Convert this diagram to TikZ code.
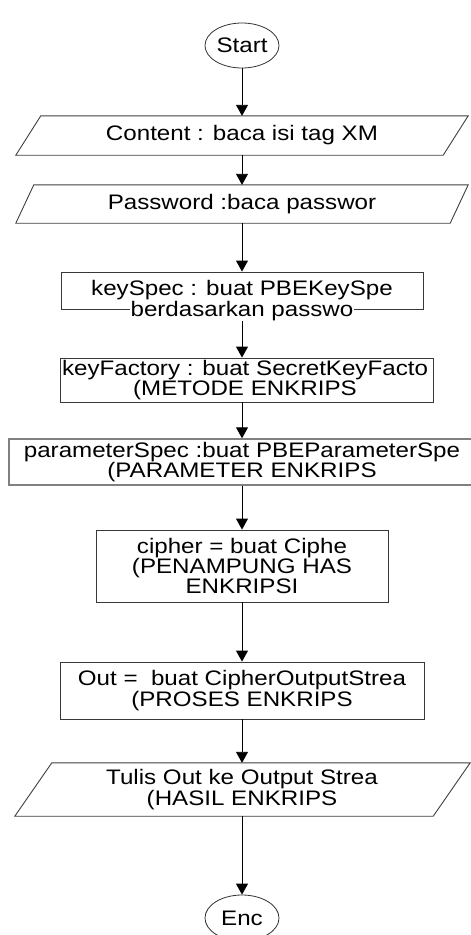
\documentclass[tikz,border=0pt]{standalone}
\usepackage{fontspec}
\setmainfont{Liberation Sans}[FakeStretch=1.15]
\usetikzlibrary{arrows.meta,shapes.geometric,calc}

\tikzset{
  term/.style={ellipse, draw=black!80, line width=0.8pt, minimum width=74pt, minimum height=45pt, inner sep=0pt},
  procbox/.style={rectangle, draw=black!78, line width=0.9pt, inner sep=0pt, align=center},
  iobox/.style={rectangle, inner sep=0pt, align=center},
  ioedge/.style={draw=black!75, line width=0.9pt},
  arr/.style={draw=black, line width=0.9pt, -{Triangle[width=12pt,length=11pt]}},
  txt/.style={font=\fontsize{21}{18.5}\selectfont, align=center},
}

\begin{document}
\begin{tikzpicture}[x=1pt,y=-1pt]
\useasboundingbox[fill=white] (0,0) rectangle (471,935);

% terminals and process boxes
\node[term] (start) at (242,45.5) {};
\node[iobox, minimum width=452pt, minimum height=39pt] (content) at (242,135.5) {};
\node[iobox, minimum width=452pt, minimum height=38pt] (pass) at (242,204) {};
\node[procbox, minimum width=362pt, minimum height=37pt] (kspec) at (242,290.5) {};
\node[procbox, minimum width=373pt, minimum height=44pt] (kfact) at (246.5,380) {};
\node[procbox, draw=black!50, line width=1.4pt, minimum width=466pt, minimum height=46pt] (pspec) at (242,462) {};
\node[procbox, minimum width=292pt, minimum height=72pt] (ciph) at (242,566) {};
\node[procbox, minimum width=364pt, minimum height=57pt] (outs) at (242,690.5) {};
\node[iobox, minimum width=455pt, minimum height=53pt] (tulis) at (242.5,789.5) {};
\node[term, minimum height=46pt] (stop) at (242,918) {};

% input/output parallelograms
\draw[ioedge] ($(content.south west)$) -- ($(content.north west)+(25,0)$)
  -- (content.north east) -- ($(content.south east)-(25,0)$) -- cycle;
\draw[ioedge] ($(pass.south west)$) -- ($(pass.north west)+(18,0)$)
  -- (pass.north east) -- ($(pass.south east)-(18,0)$) -- cycle;
\draw[ioedge] ($(tulis.south west)$) -- ($(tulis.north west)+(37,0)$)
  -- (tulis.north east) -- ($(tulis.south east)-(37,0)$) -- cycle;

% flow arrows
\draw[arr] (start.south) -- (start.south |- content.north);
\draw[arr] (content.south) -- (content.south |- pass.north);
\draw[arr] (pass.south) -- (pass.south |- kspec.north);
\draw[arr] (kspec.south) -- (kspec.south |- kfact.north);
\draw[arr] (kspec.south |- kfact.south) -- (kspec.south |- pspec.north);
\draw[arr] (pspec.south) -- (pspec.south |- ciph.north);
\draw[arr] (ciph.south) -- (ciph.south |- outs.north);
\draw[arr] (outs.south) -- (outs.south |- tulis.north);
\draw[arr] (outs.south |- tulis.south) -- (outs.south |- stop.north);

% texts
\node[txt] (tstart) at (start) {Start};
\node[txt] (tcontent) at (content) {Content : baca isi tag XM};
\node[txt] (tpass) at (pass) {Password :baca passwor};
\node[txt, anchor=base] (tks1) at (242,295.5) {keySpec : buat PBEKeySpe};
% second line sits on the box edge and blanks it out behind the words
\node[txt, anchor=base, fill=white, inner xsep=1pt, inner ysep=0pt, text height=8pt, text depth=4pt] (tks2) at (242,316.5) {berdasarkan passwo};
\node[txt] (tkf) at (245,380) {keyFactory : buat SecretKeyFacto\\(METODE ENKRIPS};
\node[txt] (tps) at (242,462) {parameterSpec :buat PBEParameterSpe\\(PARAMETER ENKRIPS};
\node[txt] (tciph) at (242,566) {cipher = buat Ciphe\\(PENAMPUNG HAS\\ENKRIPSI};
\node[txt] (touts) at (242,690.5) {Out =\ \ buat CipherOutputStrea\\(PROSES ENKRIPS};
\node[txt] (ttulis) at (242,789.5) {Tulis Out ke Output Strea\\(HASIL ENKRIPS};
\node[txt] (tstop) at (stop) {Enc};
\end{tikzpicture}
\end{document}
